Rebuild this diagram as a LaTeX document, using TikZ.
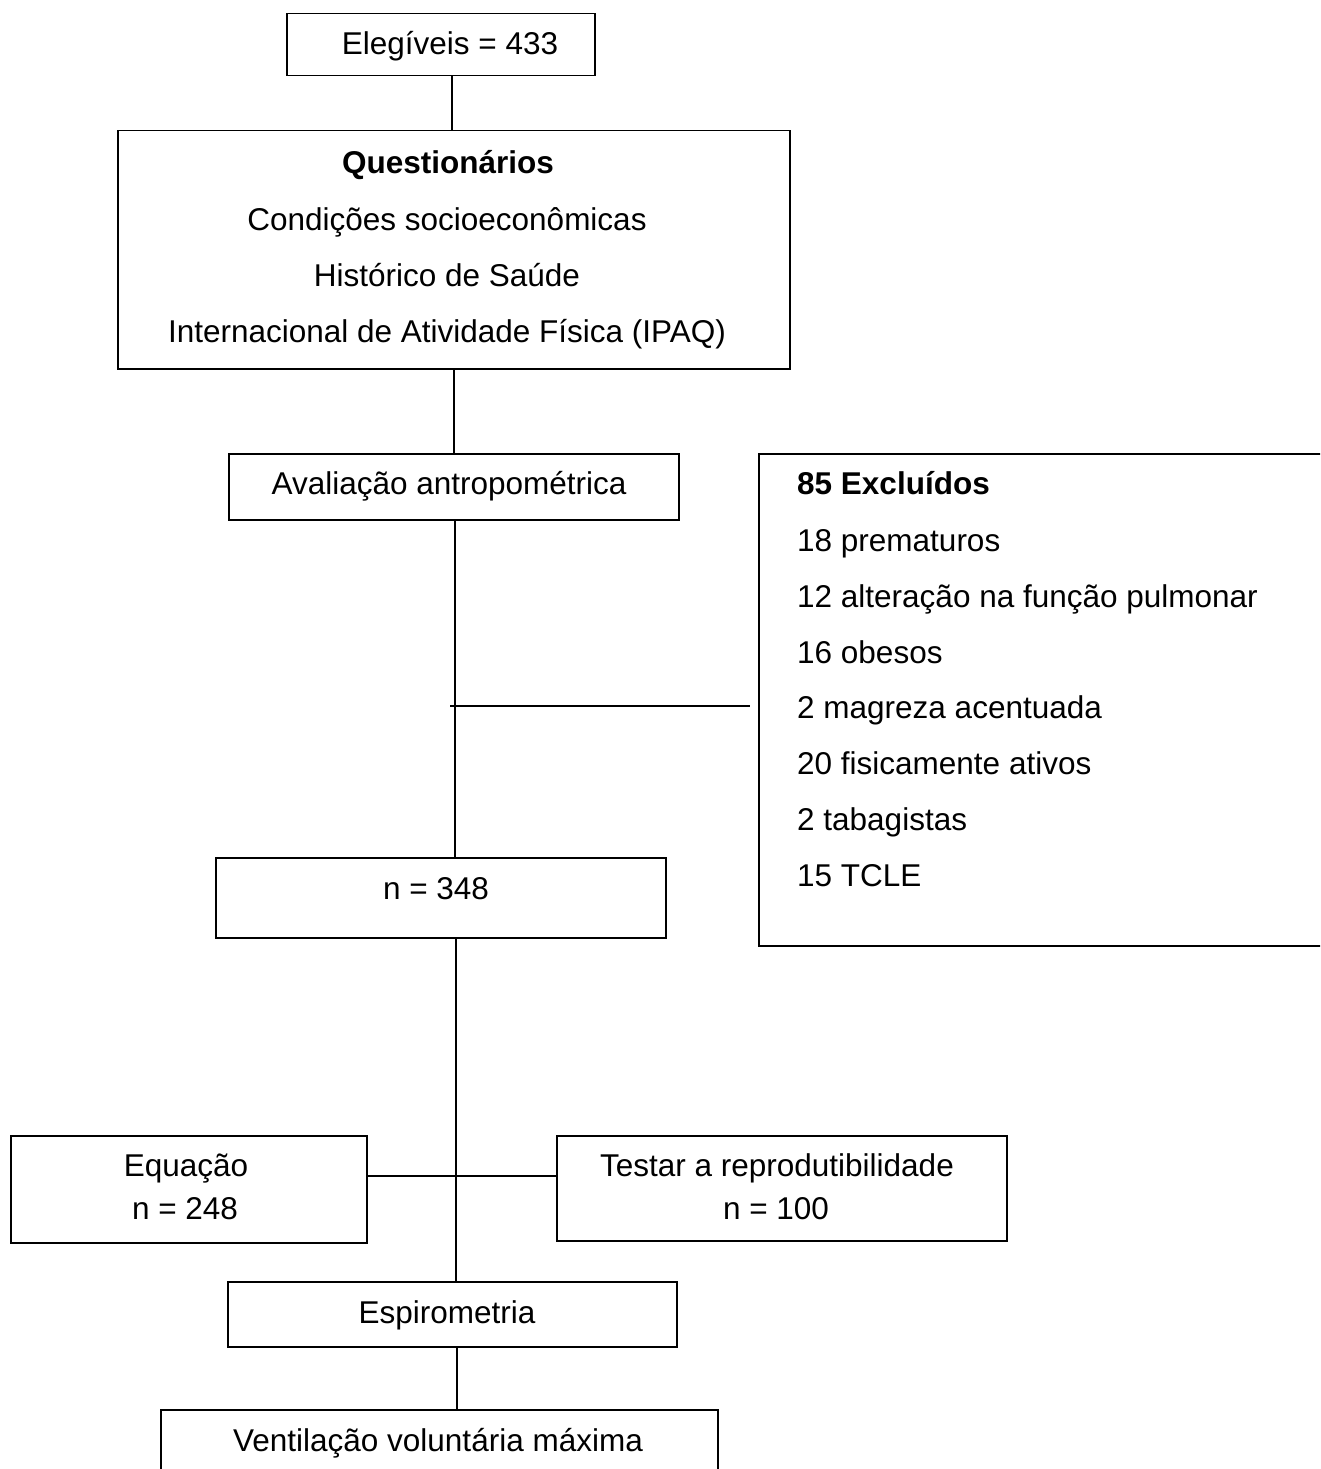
\documentclass[tikz,border=0pt]{standalone}
\usepackage{fontspec}
\setmainfont{Liberation Sans}
\begin{document}
\begin{tikzpicture}[x=1pt,y=-1pt,
  box/.style={draw,line width=1.5pt,rectangle,inner sep=0pt,anchor=north west},
  txt/.style={anchor=base,inner sep=0pt,font=\fontsize{31.5}{38}\selectfont},
  ltxt/.style={anchor=base west,inner sep=0pt,font=\fontsize{31.5}{38}\selectfont},
  conn/.style={line width=1.5pt}]
\useasboundingbox (0,0) rectangle (1320,1469);
\clip (0,0) rectangle (1320,1469);
% boxes
\node[box,minimum width=308pt,minimum height=62pt] (e) at (286,13) {};
\node[box,minimum width=672pt,minimum height=238pt] (q) at (117,130) {};
\node[box,minimum width=450pt,minimum height=66pt] (a) at (228,453) {};
\node[box,minimum width=600pt,minimum height=492pt] (x) at (758,453) {};
\node[box,minimum width=450pt,minimum height=80pt] (n) at (215,857) {};
\node[box,minimum width=356pt,minimum height=107pt] (eq) at (10,1135) {};
\node[box,minimum width=450pt,minimum height=105pt] (t) at (556,1135) {};
\node[box,minimum width=449pt,minimum height=65pt] (s) at (227,1281) {};
\node[box,minimum width=557pt,minimum height=100pt] (v) at (160,1409) {};
% texts
\node[txt] (te) at (450,55) {Elegíveis = 433};
\node[txt] (tq1) at (448,173) {\bfseries Questionários};
\node[txt] (tq2) at (447,230) {Condições socioeconômicas};
\node[txt] (tq3) at (447,286) {Histórico de Saúde};
\node[txt] (tq4) at (447,342) {Internacional de Atividade Física (IPAQ)};
\node[txt] (ta) at (449,494) {Avaliação antropométrica};
\node[ltxt] (tx1) at (797,494) {\bfseries 85 Excluídos};
\node[ltxt] (tx2) at (797,551) {18 prematuros};
\node[ltxt] (tx3) at (797,607) {12 alteração na função pulmonar};
\node[ltxt] (tx4) at (797,663) {16 obesos};
\node[ltxt] (tx5) at (797,718) {2 magreza acentuada};
\node[ltxt] (tx6) at (797,774) {20 fisicamente ativos};
\node[ltxt] (tx7) at (797,830) {2 tabagistas};
\node[ltxt] (tx8) at (797,886) {15 TCLE};
\node[txt] (tn) at (436,899) {n = 348};
\node[txt] (teq1) at (186,1176) {Equação};
\node[txt] (teq2) at (185,1219) {n = 248};
\node[txt] (tt1) at (777,1176) {Testar a reprodutibilidade};
\node[txt] (tt2) at (776,1219) {n = 100};
\node[txt] (ts) at (447,1323) {Espirometria};
\node[txt] (tv) at (438,1451) {Ventilação voluntária máxima};
% connectors
\coordinate (c1) at (452,75);
\coordinate (c2) at (452,130);
\draw[conn] (e.south -| c1) -- (q.north -| c2);
\draw[conn] (q.south) -- (a.north);
\coordinate (c3) at (455,857);
\draw[conn] (a.south -| c3) -- (n.north -| c3);
\coordinate (h1) at (450,706);
\coordinate (h2) at (750,706);
\draw[conn] (h1) -- (h2);
\coordinate (c4) at (456,937);
\coordinate (c5) at (456,1281);
\draw[conn] (c4) -- (c5);
\coordinate (h3) at (366,1176);
\coordinate (h4) at (556,1176);
\draw[conn] (eq.east |- h3) -- (t.west |- h4);
\coordinate (c6) at (457,1346);
\coordinate (c7) at (457,1409);
\draw[conn] (c6) -- (c7);
\end{tikzpicture}
\end{document}
